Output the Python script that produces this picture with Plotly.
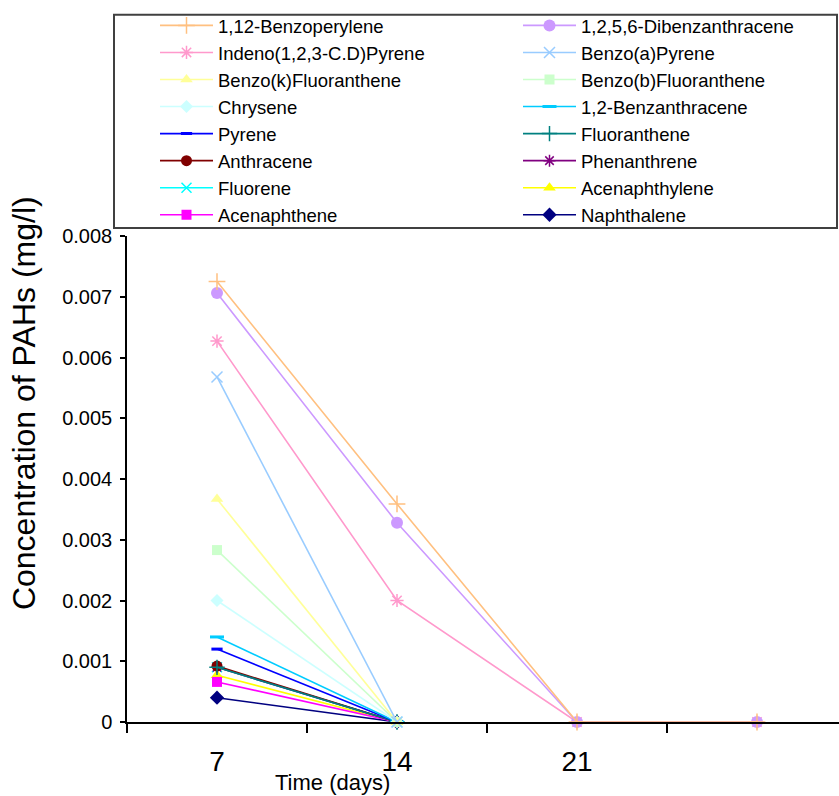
import plotly.graph_objects as go

# ---- data ----
days = ["7", "14", "21", " "]
y_tick_vals = [0, 0.001, 0.002, 0.003, 0.004, 0.005, 0.006, 0.007, 0.008]
y_tick_text = ["0", "0.001", "0.002", "0.003", "0.004", "0.005", "0.006", "0.007", "0.008"]

naphthalene = [0.0004, 0]
acenaphthylene = [0.00077, 0]
acenaphthene = [0.00066, 0]
fluorene = [0.0009, 0]
phenanthrene = [0.0009, 0]
anthracene = [0.00092, 0]
fluoranthene = [0.0009, 0]
pyrene = [0.0012, 0]
benzanthracene = [0.0014, 0]
chrysene = [0.0020, 0]
benzo_b_fluoranthene = [0.00283, 0]
benzo_k_fluoranthene = [0.00367, 0]
benzo_a_pyrene = [0.00568, 0]
indeno_pyrene = [0.00627, 0.0020, 0, 0]
dibenzanthracene = [0.00706, 0.00328, 0, 0]
benzoperylene = [0.00725, 0.00359, 0, 0]

# draw order: first drawn at bottom
series = [
    ("Naphthalene", naphthalene),
    ("Acenaphthylene", acenaphthylene),
    ("Acenaphthene", acenaphthene),
    ("Fluorene", fluorene),
    ("Phenanthrene", phenanthrene),
    ("Anthracene", anthracene),
    ("Fluoranthene", fluoranthene),
    ("Pyrene", pyrene),
    ("1,2-Benzanthracene", benzanthracene),
    ("Chrysene", chrysene),
    ("Benzo(b)Fluoranthene", benzo_b_fluoranthene),
    ("Benzo(k)Fluoranthene", benzo_k_fluoranthene),
    ("Benzo(a)Pyrene", benzo_a_pyrene),
    ("Indeno(1,2,3-C.D)Pyrene", indeno_pyrene),
    ("1,2,5,6-Dibenzanthracene", dibenzanthracene),
    ("1,12-Benzoperylene", benzoperylene),
]

# styles: color, symbol, size, marker line width, legend, rank
styles = {
    "1,12-Benzoperylene": ("#FFC080", "cross-thin-open", 12, 1.5, "legend", 1),
    "Indeno(1,2,3-C.D)Pyrene": ("#FF99CC", "asterisk-open", 11, 1.5, "legend", 2),
    "Benzo(k)Fluoranthene": ("#FFFF99", "triangle-up", 11, 0, "legend", 3),
    "Chrysene": ("#CCFFFF", "diamond", 10, 0, "legend", 4),
    "Pyrene": ("#0000FF", "line-ew-open", 8, 3, "legend", 5),
    "Anthracene": ("#800000", "circle", 11, 0, "legend", 6),
    "Fluorene": ("#00FFFF", "x-thin-open", 10, 1.5, "legend", 7),
    "Acenaphthene": ("#FF00FF", "square", 10, 0, "legend", 8),
    "1,2,5,6-Dibenzanthracene": ("#CC99FF", "circle", 12, 0, "legend2", 1),
    "Benzo(a)Pyrene": ("#99CCFF", "x-thin-open", 11, 1.5, "legend2", 2),
    "Benzo(b)Fluoranthene": ("#CCFFCC", "square", 10, 0, "legend2", 3),
    "1,2-Benzanthracene": ("#00CCFF", "line-ew-open", 10, 3, "legend2", 4),
    "Fluoranthene": ("#008080", "cross-thin-open", 11, 1.5, "legend2", 5),
    "Phenanthrene": ("#800080", "asterisk-open", 10, 1.5, "legend2", 6),
    "Acenaphthylene": ("#FFFF00", "triangle-up", 11, 0, "legend2", 7),
    "Naphthalene": ("#000080", "diamond", 11, 0, "legend2", 8),
}

fig = go.Figure()
for name, vals in series:
    color, symbol, size, lw, leg, rank = styles[name]
    marker = dict(color=color, symbol=symbol, size=size)
    if lw:
        marker["line"] = dict(color=color, width=lw)
    fig.add_trace(go.Scatter(
        x=days[:len(vals)], y=vals, name=name, mode="lines+markers",
        line=dict(color=color, width=1.6), marker=marker,
        legend=leg, legendrank=rank, cliponaxis=False,
    ))

W, H = 839, 796
L, R, T, B = 127, 0, 236, 74.3
pw = W - L - R
ph = H - T - B

def px_x(x):
    return (x - L) / pw

def px_y(y):
    return (H - B - y) / ph

leg_font = dict(family="Liberation Sans, Arial, sans-serif", size=18.5, color="black")

fig.update_layout(
    width=W, height=H,
    margin=dict(l=L, r=R, t=T, b=B, autoexpand=False),
    paper_bgcolor="white", plot_bgcolor="white",
    font=dict(family="Liberation Sans, Arial, sans-serif", color="black"),
    showlegend=True,
    legend=dict(x=px_x(155), y=px_y(7), xanchor="left", yanchor="top",
                orientation="v", bgcolor="rgba(0,0,0,0)", borderwidth=0,
                itemwidth=53, font=leg_font, traceorder="normal"),
    legend2=dict(x=px_x(518), y=px_y(7), xanchor="left", yanchor="top",
                 orientation="v", bgcolor="rgba(0,0,0,0)", borderwidth=0,
                 itemwidth=53, font=leg_font, traceorder="normal"),
    xaxis=dict(
        type="category", categoryorder="array", categoryarray=days,
        range=[-0.5, -0.5 + pw / 180.0],
        tickson="boundaries", ticks="outside", ticklen=9, tickwidth=1.5,
        tickcolor="black", showline=True, linecolor="black", linewidth=1.5,
        showgrid=False, zeroline=False,
        tickfont=dict(size=28, color="black"), ticklabelstandoff=14,
    ),
    yaxis=dict(
        range=[0, 0.008], tickmode="array", tickvals=y_tick_vals, ticktext=y_tick_text,
        ticks="outside", ticklen=5, tickwidth=1.5, tickcolor="black",
        showline=True, linecolor="black", linewidth=1.5,
        showgrid=False, zeroline=False,
        tickfont=dict(size=20, color="black"), ticklabelstandoff=4,
    ),
    shapes=[dict(type="rect", xref="paper", yref="paper",
                 x0=px_x(114), x1=px_x(837), y0=px_y(228), y1=px_y(15),
                 line=dict(color="#404040", width=2), fillcolor="rgba(0,0,0,0)")],
    annotations=[
        dict(text="Concentration of PAHs (mg/l)", xref="paper", yref="paper",
             x=px_x(24), y=px_y(403), xanchor="center", yanchor="middle",
             textangle=-90, showarrow=False, font=dict(size=32, color="black")),
        dict(text="Time (days)", xref="paper", yref="paper",
             x=px_x(332), y=px_y(782), xanchor="center", yanchor="middle",
             showarrow=False, font=dict(size=22, color="black")),
    ],
)

fig.write_html(
    "out.html",
    config={"displayModeBar": False},
    post_script="document.body.style.margin='0px';document.body.style.overflow='hidden';",
)
